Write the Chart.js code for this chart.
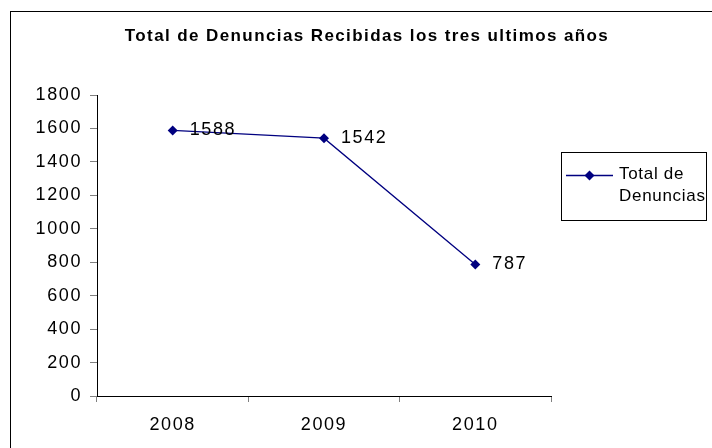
<!DOCTYPE html>
<html lang="es">
<head>
<meta charset="utf-8">
<title>Total de Denuncias Recibidas</title>
<script src="https://cdn.jsdelivr.net/npm/chart.js@4.4.1/dist/chart.umd.min.js"></script>
<style>
    html, body { margin: 0; padding: 0; background: #ffffff; }
    #grafico { display: block; }
</style>
</head>
<body>
<canvas id="grafico" width="712" height="448"></canvas>
<script>
// Datos del gráfico
const anios = ['2008', '2009', '2010'];
const totalDenuncias = [1588, 1542, 787];
const ejeYMin = 0;
const ejeYMax = 1800;
const ejeYPaso = 200;
const tituloGrafico = 'Total de Denuncias Recibidas los tres ultimos años';
const leyendaTexto = ['Total de', 'Denuncias'];

const colorSerie = '#000080';
const fuente = '"Liberation Sans", Arial, sans-serif';
const espaciado = '1.6px';

// Plugin: marco, título, leyenda y etiquetas de datos
const decoracion = {
    id: 'decoracion',
    beforeUpdate(chart) {
        chart.ctx.letterSpacing = espaciado;
    },
    beforeDraw(chart) {
        const ctx = chart.ctx;
        ctx.letterSpacing = espaciado;
        ctx.save();
        ctx.fillStyle = '#ffffff';
        ctx.fillRect(0, 0, chart.width, chart.height);
        ctx.restore();
    },
    afterDraw(chart) {
        const ctx = chart.ctx;
        ctx.save();

        // Marco exterior
        ctx.strokeStyle = '#000000';
        ctx.lineWidth = 1;
        ctx.strokeRect(10.5, 11.5, 720, 460);

        // Título
        ctx.fillStyle = '#000000';
        ctx.font = 'bold 17px ' + fuente;
        ctx.letterSpacing = '1.4px';
        ctx.textAlign = 'center';
        ctx.textBaseline = 'middle';
        ctx.fillText(tituloGrafico, 367, 36);

        // Etiquetas de datos
        const meta = chart.getDatasetMeta(0);
        ctx.font = '18px ' + fuente;
        ctx.letterSpacing = espaciado;
        ctx.textAlign = 'left';
        meta.data.forEach((pt, i) => {
            ctx.fillText(String(totalDenuncias[i]), pt.x + 17, pt.y);
        });

        // Leyenda
        ctx.strokeStyle = '#000000';
        ctx.lineWidth = 1;
        ctx.strokeRect(561.5, 152.5, 145, 68);
        ctx.strokeStyle = colorSerie;
        ctx.lineWidth = 1.3;
        ctx.beginPath();
        ctx.moveTo(566, 175.5);
        ctx.lineTo(613, 175.5);
        ctx.stroke();
        ctx.fillStyle = colorSerie;
        ctx.beginPath();
        ctx.moveTo(589.5, 170.5);
        ctx.lineTo(594.5, 175.5);
        ctx.lineTo(589.5, 180.5);
        ctx.lineTo(584.5, 175.5);
        ctx.closePath();
        ctx.fill();
        ctx.fillStyle = '#000000';
        ctx.font = '17px ' + fuente;
        ctx.letterSpacing = '0.7px';
        leyendaTexto.forEach((linea, i) => {
            ctx.fillText(linea, 619, 174 + i * 22);
        });

        ctx.restore();
    }
};

const ctx = document.getElementById('grafico');

new Chart(ctx, {
    type: 'line',
    data: {
        labels: anios,
        datasets: [{
            label: leyendaTexto.join(' '),
            data: totalDenuncias,
            borderColor: colorSerie,
            backgroundColor: colorSerie,
            borderWidth: 1.3,
            pointStyle: 'rectRot',
            pointRadius: 5,
            pointHoverRadius: 5,
            pointBorderWidth: 0,
            tension: 0,
            fill: false
        }]
    },
    options: {
        responsive: false,
        animation: false,
        layout: {
            padding: { left: 10, right: 161, top: 95, bottom: 0 }
        },
        plugins: {
            legend: { display: false },
            title: { display: false },
            tooltip: { enabled: false }
        },
        scales: {
            x: {
                offset: true,
                afterFit: (scale) => { scale.height = 52; },
                grid: {
                    offset: true,
                    drawOnChartArea: false,
                    drawTicks: true,
                    tickLength: 6,
                    color: '#808080'
                },
                border: { display: true, color: '#000000', width: 1 },
                ticks: {
                    color: '#000000',
                    padding: 12,
                    maxRotation: 0,
                    font: { family: fuente, size: 18 }
                }
            },
            y: {
                min: ejeYMin,
                max: ejeYMax,
                afterFit: (scale) => { scale.width = 87; },
                grid: {
                    drawOnChartArea: false,
                    drawTicks: true,
                    tickLength: 7,
                    color: '#808080'
                },
                border: { display: true, color: '#000000', width: 1 },
                ticks: {
                    stepSize: ejeYPaso,
                    color: '#000000',
                    padding: 8,
                    font: { family: fuente, size: 18 },
                    callback: (valor) => String(valor)
                }
            }
        }
    },
    plugins: [decoracion]
});
</script>
</body>
</html>
